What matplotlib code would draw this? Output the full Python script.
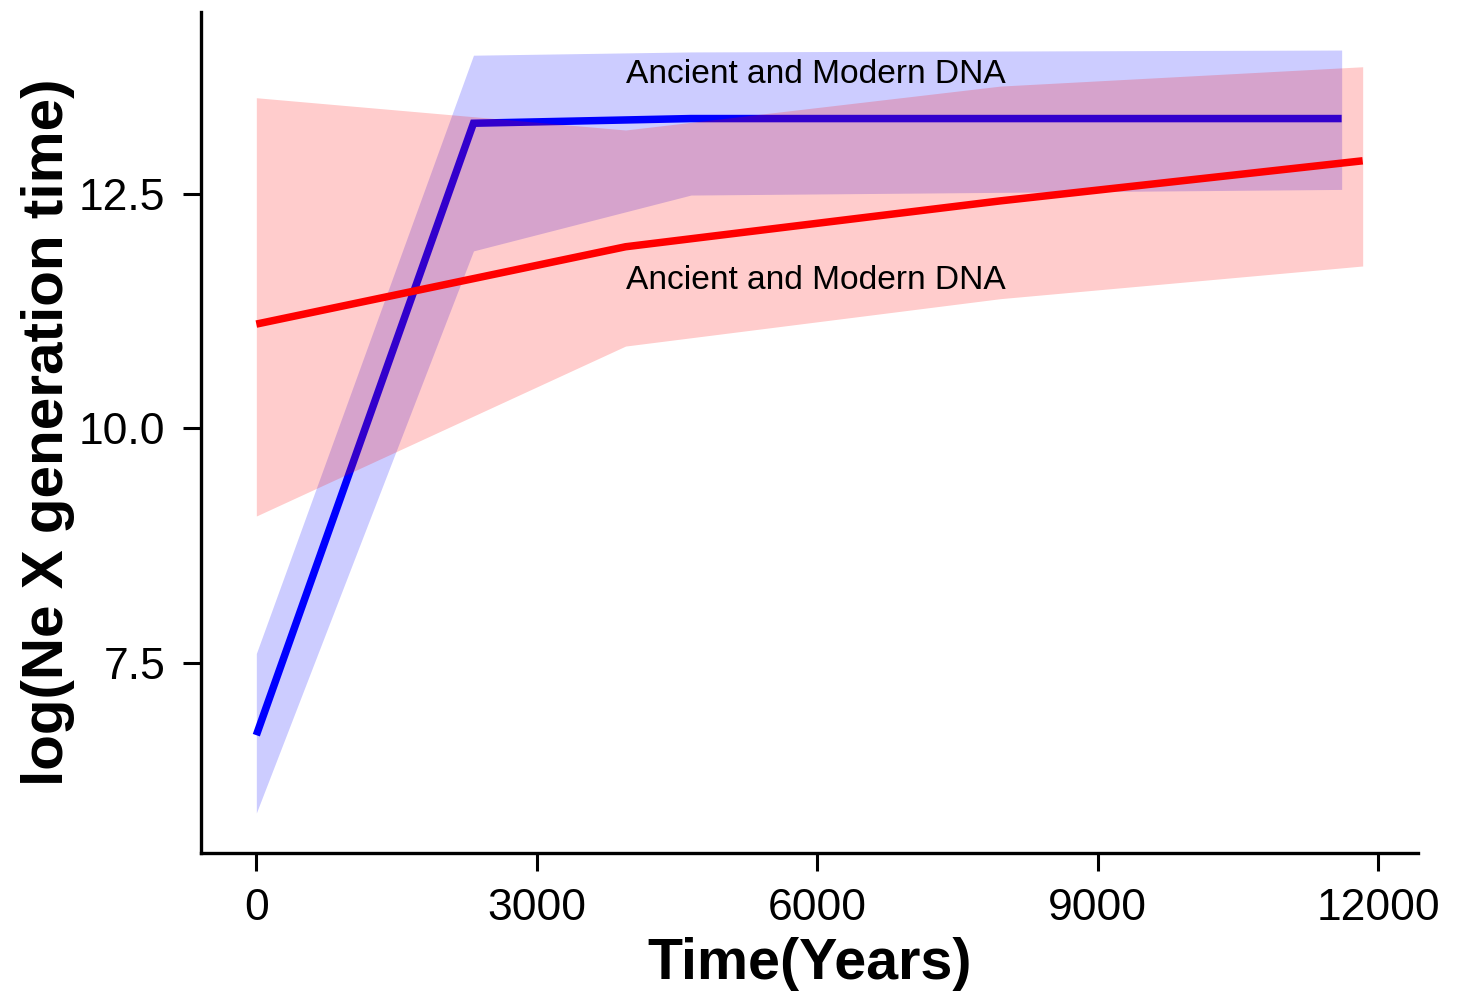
import matplotlib
matplotlib.use("Agg")
import matplotlib.pyplot as plt

plt.rcParams['font.family'] = ['Liberation Sans', 'DejaVu Sans']

# Blue series (upper curve)
blue_x = [0, 2323, 4650, 11610]
blue_y = [6.73, 13.25, 13.30, 13.30]
blue_lo = [5.90, 11.89, 12.485, 12.545]
blue_hi = [7.60, 13.975, 14.01, 14.03]

# Red series
red_x = [0, 3950, 7960, 11835]
red_y = [11.11, 11.934, 12.423, 12.85]
red_lo = [9.065, 10.876, 11.381, 11.729]
red_hi = [13.522, 13.178, 13.646, 13.852]

label_text = "Ancient and Modern DNA"
label_x = 3950
label_y_top = 13.68
label_y_bot = 11.48

x_ticks = [0, 3000, 6000, 9000, 12000]
y_ticks = [7.5, 10.0, 12.5]
y_tick_labels = ["7.5", "10.0", "12.5"]

fig = plt.figure(figsize=(14.65, 9.99), dpi=100)
ax = fig.add_axes([201/1465, 1 - 853/999, (1418-201)/1465, (853-12)/999])

ax.fill_between(blue_x, blue_lo, blue_hi, color=(0, 0, 1), alpha=0.2, linewidth=0, zorder=1)
ax.plot(blue_x, blue_y, color=(0, 0, 1), linewidth=5.4, solid_capstyle='butt', solid_joinstyle='miter', zorder=2)
ax.fill_between(red_x, red_lo, red_hi, color=(1, 0, 0), alpha=0.2, linewidth=0, zorder=3)
ax.plot(red_x, red_y, color=(1, 0, 0), linewidth=5.4, solid_capstyle='butt', solid_joinstyle='miter', zorder=4)

ax.text(label_x, label_y_top, label_text, fontsize=24.1, ha='left', va='baseline', color='black', zorder=5)
ax.text(label_x, label_y_bot, label_text, fontsize=24.1, ha='left', va='baseline', color='black', zorder=5)

xmax = 11835
ax.set_xlim(-0.05 * xmax, 1.05 * xmax)
ymin, ymax = 5.882, 14.028
r = ymax - ymin
ax.set_ylim(ymin - 0.05 * r, ymax + 0.05 * r)

ax.set_xticks(x_ticks)
ax.set_xticklabels([str(t) for t in x_ticks])
ax.set_yticks(y_ticks)
ax.set_yticklabels(y_tick_labels)

for s in ['top', 'right']:
    ax.spines[s].set_visible(False)
for s in ['left', 'bottom']:
    ax.spines[s].set_linewidth(2.4)
    ax.spines[s].set_color('black')

ax.tick_params(axis='both', which='major', length=13, width=2.2, labelsize=32, color='black', labelcolor='black')
ax.tick_params(axis='x', pad=12)
ax.tick_params(axis='y', pad=12.5)

ax.set_xlabel("Time(Years)", fontsize=41.3, fontweight='bold', labelpad=6)
ax.set_ylabel("log(Ne X generation time)", fontsize=42, fontweight='bold', labelpad=3)

fig.savefig("out.png", dpi=100)
